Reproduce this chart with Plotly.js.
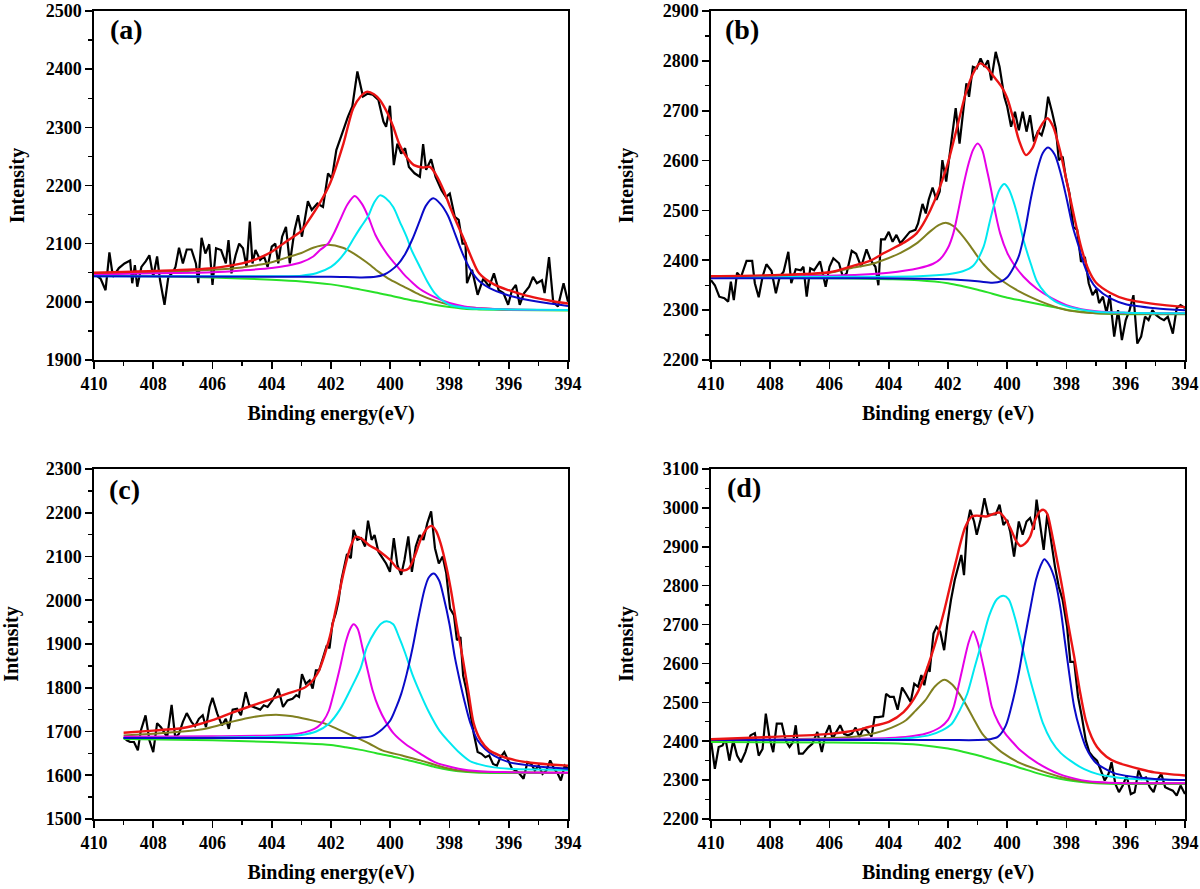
<!DOCTYPE html>
<html><head><meta charset="utf-8">
<script src="https://cdn.plot.ly/plotly-3.0.1.min.js"></script>
<style>html,body{margin:0;padding:0;background:#fff}#chart{width:1200px;height:889px}</style>
</head><body><div id="chart"></div>
<script>
// ---------- shared tick labels ----------
const xTicks = [410,408,406,404,402,400,398,396,394];
const aYTicks = [1900,2000,2100,2200,2300,2400,2500];
const bYTicks = [2200,2300,2400,2500,2600,2700,2800,2900];
const cYTicks = [1500,1600,1700,1800,1900,2000,2100,2200,2300];
const dYTicks = [2200,2300,2400,2500,2600,2700,2800,2900,3000,3100];
const panelLabels = ['(a)','(b)','(c)','(d)'];
const xTitles = ['Binding energy(eV)','Binding energy (eV)','Binding energy(eV)','Binding energy (eV)'];
const yTitle = 'Intensity';

// ---------- panel (a) ----------
const aDataE = [410,409.78,409.61,409.48,409.36,409.16,408.97,408.78,408.71,408.62,408.54,408.4,408.25,408.13,408,407.87,407.77,407.62,407.49,407.35,407.25,407.13,407,406.87,406.71,406.56,406.48,406.37,406.24,406.11,406,405.88,405.71,405.55,405.46,405.36,405.22,405.1,404.97,404.85,404.74,404.65,404.55,404.39,404.26,404.14,404,403.88,403.78,403.65,403.52,403.39,403.23,403.11,402.98,402.78,402.65,402.46,402.27,402.1,401.97,401.82,401.62,401.43,401.28,401.11,400.92,400.76,400.59,400.4,400.23,400.14,400.01,399.88,399.76,399.63,399.5,399.37,399.18,399,398.89,398.79,398.62,398.47,398.27,398.12,397.99,397.82,397.69,397.56,397.46,397.41,397.24,397.05,396.86,396.66,396.5,396.34,396.18,396.02,395.89,395.76,395.63,395.48,395.31,395.18,395.05,394.88,394.79,394.64,394.5,394.34,394.15,394];
const aDataI = [2048,2040,2020,2085,2043,2058,2066,2071,2032,2063,2026,2060,2070,2080,2043,2078,2037,1995,2043,2050,2060,2093,2066,2090,2090,2066,2032,2110,2083,2099,2029,2092,2089,2066,2106,2049,2080,2100,2092,2060,2138,2066,2089,2072,2078,2060,2095,2100,2066,2112,2129,2066,2123,2149,2112,2173,2158,2169,2163,2221,2212,2261,2290,2318,2336,2396,2353,2358,2356,2347,2310,2301,2337,2235,2272,2255,2264,2232,2221,2215,2271,2227,2245,2215,2192,2180,2186,2146,2141,2100,2100,2032,2055,2012,2040,2026,2049,2020,2015,1995,2020,2029,1995,2015,2026,2043,2032,2037,2015,2077,2000,1992,2032,2000];
const aGreen = [[410,2045],[408,2044],[406,2042],[404,2038],[403,2035],[402,2030],[401.5,2026],[401,2021],[400.5,2016],[400,2011],[399.5,2005],[399,2000],[398.5,1995],[398,1991],[397.5,1988],[397,1987],[396,1986],[394,1985]];
const aOlive = [[410,2049],[408,2051],[406,2055],[405,2059],[404.5,2063],[404,2068],[403.5,2076],[403,2084],[402.6,2093],[402.1,2098],[401.6,2093],[401.2,2082],[400.8,2068],[400.4,2052],[400,2038],[399.5,2025],[399,2012],[398.5,2002],[398,1995],[397.5,1991],[397,1989],[396,1987],[394,1986]];
const aMagenta = [[410,2047],[408,2049],[406,2051],[405,2054],[404,2058],[403.5,2062],[403,2068],[402.6,2078],[402.37,2089],[402.1,2100],[401.9,2118],[401.7,2140],[401.45,2167],[401.2,2182],[400.95,2168],[400.74,2146],[400.5,2115],[400.2,2089],[400,2075],[399.75,2060],[399.5,2045],[399.25,2033],[399,2022],[398.5,2008],[398,1998],[397.5,1992],[397,1989],[396,1987],[394,1986]];
const aCyan = [[410,2044],[405,2044],[403,2045],[402.5,2049],[402,2060],[401.75,2071],[401.47,2089],[401.2,2112],[401,2128],[400.75,2147],[400.55,2170],[400.35,2183],[400.15,2178],[399.9,2163],[399.68,2138],[399.45,2112],[399.28,2089],[399,2060],[398.75,2035],[398.5,2015],[398.2,2001],[398,1995],[397.5,1990],[397,1988],[396,1987],[394,1986]];
const aBlue = [[410,2044],[404,2043],[402,2043],[401,2042],[400.5,2043],[400.2,2047],[400,2053],[399.75,2064],[399.5,2082],[399.25,2108],[399,2140],[398.8,2165],[398.55,2178],[398.3,2168],[398.05,2148],[397.8,2115],[397.55,2082],[397.3,2056],[397,2036],[396.5,2020],[396,2011],[395,2000],[394,1993]];
const aRed = [[410,2050],[408,2053],[406,2058],[405,2066],[404.5,2074],[404,2086],[403.83,2092],[403.5,2104],[403,2122],[402.82,2135],[402.4,2168],[402.03,2204],[401.58,2272],[401.25,2333],[401,2353],[400.8,2361],[400.55,2357],[400.35,2347],[400.1,2325],[399.9,2301],[399.7,2272],[399.45,2249],[399.2,2235],[398.9,2231],[398.66,2232],[398.45,2218],[398.2,2192],[397.98,2163],[397.75,2135],[397.5,2106],[397.25,2075],[397,2049],[396.5,2030],[396,2020],[395.5,2012],[395,2006],[394.5,2001],[394,1997]];

// ---------- panel (b) ----------
const bDataE = [410,409.87,409.72,409.55,409.42,409.33,409.23,409.12,408.99,408.8,408.61,408.52,408.39,408.26,408.13,407.96,407.81,407.68,407.55,407.39,407.29,407.14,406.97,406.88,406.77,406.65,406.52,406.32,406.13,406,405.87,405.68,405.55,405.42,405.25,405.1,404.93,404.75,404.61,404.45,404.35,404.26,404.13,404,403.87,403.74,403.61,403.48,403.29,403.1,403.01,402.86,402.75,402.65,402.52,402.39,402.28,402.19,402.06,401.94,401.85,401.74,401.61,401.48,401.38,401.29,401.16,401.03,400.9,400.77,400.65,400.54,400.39,400.26,400.1,400,399.87,399.74,399.61,399.48,399.35,399.23,399.1,398.97,398.84,398.74,398.62,398.49,398.36,398.26,398.13,398.03,397.9,397.77,397.64,397.51,397.38,397.25,397.12,396.99,396.9,396.77,396.65,396.54,396.39,396.26,396.13,396,395.87,395.74,395.61,395.48,395.35,395.23,395.1,394.97,394.84,394.71,394.58,394.41,394.28,394.15,394];
const bDataI = [2360,2350,2327,2324,2317,2357,2320,2375,2366,2399,2399,2354,2326,2367,2392,2379,2334,2367,2377,2417,2354,2382,2380,2387,2327,2384,2380,2398,2347,2387,2404,2394,2367,2374,2419,2413,2387,2422,2400,2387,2350,2442,2442,2457,2437,2451,2434,2444,2457,2461,2474,2513,2494,2522,2546,2521,2538,2601,2558,2614,2655,2705,2634,2707,2755,2728,2788,2785,2805,2788,2801,2761,2818,2788,2728,2708,2668,2698,2661,2698,2658,2691,2638,2658,2651,2671,2728,2698,2664,2601,2608,2568,2534,2467,2461,2397,2407,2354,2330,2342,2314,2327,2294,2330,2247,2300,2240,2280,2300,2330,2233,2247,2287,2280,2300,2290,2284,2280,2287,2253,2304,2310,2304];
const bGreen = [[410,2365],[406,2364],[404,2362],[403,2360],[402,2354],[401.5,2348],[401,2341],[400.5,2333],[400,2325],[399.5,2319],[399,2313],[398.5,2307],[398,2301],[397.5,2297],[397,2294],[396,2292],[394,2292]];
const bOlive = [[410,2366],[408,2369],[406,2375],[405.3,2384],[404.6,2392],[404.2,2400],[403.6,2415],[403.06,2434],[402.6,2458],[402.3,2471],[402.05,2475],[401.8,2468],[401.55,2452],[401.3,2433],[401.03,2410],[400.8,2392],[400.5,2374],[400.2,2360],[399.55,2336],[398.9,2318],[398.4,2307],[398,2300],[397.5,2296],[397,2294],[396,2293],[394,2293]];
const bMagenta = [[410,2366],[407,2368],[405,2371],[404,2375],[403,2384],[402.5,2393],[402.27,2402],[402,2425],[401.82,2454],[401.65,2500],[401.48,2550],[401.3,2595],[401.15,2622],[401,2634],[400.85,2622],[400.7,2585],[400.55,2543],[400.4,2495],[400.24,2454],[400,2415],[399.8,2394],[399.45,2367],[399,2343],[398.5,2324],[398,2310],[397.5,2302],[397,2298],[396,2295],[394,2294]];
const bCyan = [[410,2366],[405,2367],[403,2368],[402,2372],[401.5,2378],[401.15,2389],[400.8,2427],[400.6,2475],[400.45,2510],[400.25,2543],[400.1,2553],[399.95,2543],[399.8,2520],[399.6,2478],[399.45,2440],[399.2,2392],[399,2358],[398.7,2333],[398.4,2318],[398,2308],[397.5,2301],[397,2297],[396,2295],[394,2294]];
const bBlue = [[410,2364],[405,2364],[402,2362],[401,2358],[400.5,2355],[400.2,2358],[400,2366],[399.8,2384],[399.6,2410],[399.4,2460],[399.2,2525],[399,2578],[398.8,2615],[398.62,2626],[398.4,2612],[398.2,2575],[398,2525],[397.8,2470],[397.6,2430],[397.4,2390],[397.2,2362],[397,2345],[396.5,2323],[396,2312],[395,2304],[394,2300]];
const bRed = [[410,2368],[408,2370],[406,2376],[405.31,2387],[404.6,2400],[404.18,2414],[403.5,2435],[403.06,2454],[402.6,2500],[402.04,2588],[401.7,2665],[401.4,2735],[401.15,2775],[400.92,2795],[400.7,2787],[400.45,2768],[400.19,2748],[400,2725],[399.8,2685],[399.6,2640],[399.37,2611],[399.15,2625],[398.9,2665],[398.65,2685],[398.45,2668],[398.2,2615],[398,2560],[397.75,2490],[397.5,2425],[397.25,2380],[397,2355],[396.5,2334],[396,2322],[395,2312],[394,2306]];

// ---------- panel (c) ----------
const cDataE = [409,408.89,408.78,408.65,408.52,408.42,408.26,408.13,408,407.87,407.74,407.62,407.53,407.38,407.26,407.13,407,406.87,406.71,406.59,406.46,406.33,406.22,406.1,406,405.84,405.68,405.55,405.45,405.32,405.17,405.04,404.88,404.76,404.59,404.39,404.27,404.14,403.98,403.78,403.62,403.47,403.3,403.17,403.08,402.98,402.85,402.72,402.62,402.51,402.4,402.27,402.14,402.05,401.95,401.84,401.75,401.65,401.56,401.46,401.33,401.24,401.11,400.98,400.85,400.75,400.63,400.53,400.4,400.27,400.14,400.01,399.88,399.76,399.63,399.52,399.39,399.27,399.14,399.01,398.88,398.75,398.62,398.49,398.36,398.23,398.11,397.98,397.85,397.75,397.63,397.54,397.44,397.31,397.18,397.05,396.92,396.79,396.66,396.53,396.4,396.28,396.15,396.02,395.89,395.76,395.63,395.5,395.37,395.24,395.12,394.99,394.86,394.73,394.6,394.47,394.34,394.24,394.11,394];
const cDataI = [1687,1680,1676,1676,1657,1702,1737,1680,1653,1719,1710,1695,1687,1761,1687,1695,1722,1742,1722,1712,1729,1737,1710,1756,1777,1741,1714,1729,1706,1750,1752,1737,1790,1760,1756,1750,1760,1756,1771,1798,1756,1771,1775,1783,1779,1831,1809,1817,1798,1840,1840,1870,1897,1890,1947,1970,1997,2046,2077,2106,2096,2161,2138,2142,2123,2182,2138,2149,2111,2096,2084,2065,2142,2081,2058,2092,2146,2065,2123,2149,2138,2176,2203,2119,2084,2100,2062,1981,1966,1909,1916,1828,1798,1748,1695,1653,1649,1641,1645,1626,1622,1641,1653,1634,1615,1611,1603,1592,1630,1626,1611,1622,1603,1611,1634,1615,1603,1588,1622,1615];
const cGreen = [[409,1683],[406,1680],[404,1676],[403,1673],[402,1669],[401.5,1664],[401,1658],[400.5,1651],[400,1644],[399.5,1636],[399,1628],[398.5,1619],[398,1612],[397.5,1608],[397,1606],[396,1605],[394,1605]];
const cOlive = [[409,1691],[408,1695],[407,1700],[406.2,1707],[405.42,1721],[404.8,1731],[404.2,1737],[403.75,1738],[403.3,1735],[402.8,1728],[402.2,1718],[401.7,1703],[401.17,1687],[400.7,1672],[400.27,1657],[399.6,1645],[398.98,1634],[398.3,1620],[397.69,1611],[397,1608],[396,1607],[394,1606]];
const cMagenta = [[409,1688],[406,1689],[404,1691],[403.1,1695],[402.7,1702],[402.46,1710],[402.25,1725],[402.07,1748],[401.9,1790],[401.69,1848],[401.5,1905],[401.35,1935],[401.24,1945],[401.1,1935],[400.95,1895],[400.79,1848],[400.6,1795],[400.4,1756],[400.15,1722],[399.88,1695],[399.5,1672],[398.98,1649],[398.5,1630],[397.69,1615],[397,1609],[396,1607],[394,1606]];
const cCyan = [[409,1685],[406,1686],[404,1688],[403,1692],[402.5,1700],[402.07,1718],[401.7,1750],[401.3,1802],[401,1845],[400.79,1893],[400.5,1930],[400.3,1947],[400.12,1952],[399.9,1945],[399.7,1915],[399.5,1880],[399.25,1830],[398.98,1786],[398.7,1745],[398.34,1702],[398,1675],[397.69,1653],[397.3,1632],[397.05,1626],[396.5,1618],[396,1615],[395,1613],[394,1612]];
const cBlue = [[409,1685],[405,1685],[402,1685],[401,1686],[400.6,1690],[400.27,1705],[400,1725],[399.8,1755],[399.63,1786],[399.45,1830],[399.24,1893],[399.05,1960],[398.85,2023],[398.7,2052],[398.53,2061],[398.35,2045],[398.2,2008],[398,1945],[397.82,1870],[397.65,1815],[397.5,1771],[397.3,1720],[397.05,1680],[396.8,1660],[396.5,1645],[396,1630],[395,1620],[394,1615]];
const cRed = [[409,1697],[408,1702],[407,1708],[406.71,1712],[406,1726],[405.42,1741],[404.8,1756],[404.14,1771],[403.5,1786],[402.85,1802],[402.46,1832],[402.07,1909],[401.82,1985],[401.55,2070],[401.35,2120],[401.17,2145],[400.95,2140],[400.7,2125],[400.5,2118],[400.27,2107],[400,2092],[399.76,2073],[399.55,2068],[399.37,2073],[399.15,2105],[398.98,2138],[398.75,2165],[398.6,2170],[398.45,2158],[398.3,2130],[398.1,2075],[397.95,2023],[397.75,1940],[397.56,1870],[397.35,1785],[397.18,1718],[396.95,1680],[396.66,1657],[396.3,1645],[395.76,1634],[395,1627],[394,1622]];

// ---------- panel (d) ----------
const dDataE = [410,409.87,409.74,409.61,409.51,409.38,409.25,409.12,408.99,408.84,408.67,408.52,408.39,408.26,408.15,408.03,407.9,407.78,407.61,407.48,407.35,407.23,407.14,407.03,406.9,406.71,406.58,406.41,406.26,406.13,406,405.9,405.77,405.64,405.51,405.38,405.25,405.12,404.99,404.86,404.74,404.58,404.48,404.35,404.19,404.09,403.96,403.83,403.7,403.55,403.42,403.26,403.14,403.01,402.9,402.8,402.67,402.62,402.49,402.39,402.26,402.13,402.03,401.9,401.77,401.64,401.55,401.46,401.35,401.25,401.12,401.03,400.9,400.77,400.65,400.52,400.39,400.26,400.13,400,399.9,399.77,399.61,399.48,399.35,399.23,399.1,399.01,398.9,398.77,398.65,398.52,398.39,398.26,398.13,397.98,397.87,397.74,397.61,397.48,397.35,397.23,397.1,396.97,396.84,396.71,396.58,396.48,396.35,396.23,396.1,395.97,395.83,395.7,395.57,395.45,395.32,395.19,395.06,394.94,394.8,394.67,394.54,394.41,394.28,394.15,394];
const dDataI = [2402,2329,2385,2389,2406,2350,2402,2363,2346,2372,2415,2421,2363,2380,2471,2411,2372,2445,2445,2402,2385,2398,2441,2368,2368,2385,2393,2424,2372,2419,2441,2406,2424,2441,2419,2415,2419,2435,2411,2432,2428,2412,2462,2462,2464,2522,2514,2514,2481,2538,2522,2501,2548,2540,2570,2544,2595,2578,2677,2694,2681,2634,2698,2763,2815,2853,2879,2827,2956,2995,2965,2931,2970,3025,2983,2983,2983,3008,2956,2969,2939,2875,2965,2931,2965,2974,2944,3021,2961,2892,2983,2918,2849,2797,2763,2694,2604,2604,2514,2462,2402,2372,2359,2350,2325,2299,2316,2346,2290,2269,2286,2312,2264,2269,2325,2303,2307,2282,2269,2299,2316,2282,2277,2273,2260,2286,2264];
const dGreen = [[410,2398],[406,2397],[404,2395],[403,2391],[402,2381],[401.5,2373],[401,2364],[400.5,2353],[400,2342],[399.5,2330],[399,2318],[398.5,2308],[398,2300],[397.5,2295],[397,2292],[396,2290],[394,2290]];
const dOlive = [[410,2403],[408,2404],[406,2408],[405,2413],[404.45,2421],[403.9,2435],[403.42,2454],[403.1,2478],[402.77,2505],[402.45,2540],[402.13,2558],[401.85,2545],[401.48,2505],[401.15,2460],[400.84,2419],[400.5,2392],[400.19,2372],[399.6,2345],[398.9,2325],[398.2,2308],[397.61,2299],[397,2294],[396,2292],[394,2292]];
const dMagenta = [[410,2403],[406,2405],[404,2408],[403.3,2412],[402.77,2419],[402.26,2436],[402,2455],[401.81,2488],[401.65,2540],[401.5,2591],[401.3,2655],[401.15,2683],[401,2655],[400.8,2591],[400.66,2540],[400.52,2488],[400.3,2448],[400.06,2419],[399.8,2396],[399.55,2376],[399,2345],[398.26,2316],[397.5,2300],[396.97,2295],[396,2292],[394,2292]];
const dCyan = [[410,2403],[406,2404],[404,2405],[403.2,2409],[402.65,2415],[402.2,2428],[401.87,2445],[401.6,2480],[401.35,2522],[401.1,2590],[400.84,2660],[400.6,2725],[400.35,2765],[400.13,2774],[399.95,2765],[399.75,2720],[399.55,2660],[399.3,2580],[399.03,2505],[398.8,2447],[398.52,2402],[398.2,2370],[397.87,2350],[397.4,2328],[396.97,2316],[396.3,2307],[395.68,2303],[394,2300]];
const dBlue = [[410,2403],[405,2403],[402,2403],[401,2403],[400.6,2405],[400.32,2411],[400.05,2440],[399.81,2505],[399.6,2580],[399.42,2660],[399.2,2750],[399.03,2815],[398.88,2850],[398.75,2868],[398.6,2855],[398.39,2815],[398.2,2740],[398.06,2660],[397.9,2570],[397.74,2488],[397.55,2430],[397.35,2385],[397.15,2358],[396.97,2342],[396.6,2325],[396.32,2316],[395.5,2306],[395.03,2303],[394,2300]];
const dRed = [[410,2405],[408,2411],[406,2419],[405,2430],[404.71,2436],[404,2450],[403.5,2475],[403.03,2525],[402.52,2630],[402.13,2735],[401.74,2860],[401.42,2950],[401.2,2978],[401.03,2980],[400.71,2978],[400.45,2985],[400.26,2988],[400.05,2970],[399.87,2944],[399.7,2915],[399.55,2902],[399.4,2908],[399.23,2926],[399.05,2970],[398.9,2991],[398.77,2995],[398.65,2985],[398.52,2944],[398.33,2870],[398.13,2789],[397.94,2700],[397.74,2617],[397.55,2530],[397.35,2454],[397.15,2410],[396.97,2385],[396.65,2360],[396.32,2346],[395.5,2328],[395.03,2320],[394,2312]];

// ---------- styling / layout ----------
const W = 1200, H = 889;
const COLORS = {black:'#000000', green:'rgb(40,225,40)', olive:'rgb(128,128,32)', magenta:'rgb(230,0,230)', cyan:'rgb(0,232,240)', blue:'rgb(10,10,200)', red:'rgb(235,20,20)'};
const FONT = '"Liberation Serif", "Times New Roman", Times, serif';

const panels = [
  {data:[aDataE,aDataI], curves:{green:aGreen, olive:aOlive, magenta:aMagenta, cyan:aCyan, blue:aBlue, red:aRed}, yt:aYTicks, px:[94,568], py:[11,360], lab:[108,30], ystand:16},
  {data:[bDataE,bDataI], curves:{green:bGreen, olive:bOlive, magenta:bMagenta, cyan:bCyan, blue:bBlue, red:bRed}, yt:bYTicks, px:[711,1185], py:[11,360], lab:[723,30], ystand:24},
  {data:[cDataE,cDataI], curves:{green:cGreen, olive:cOlive, magenta:cMagenta, cyan:cCyan, blue:cBlue, red:cRed}, yt:cYTicks, px:[94,568], py:[469,819], lab:[107,489], ystand:24},
  {data:[dDataE,dDataI], curves:{green:dGreen, olive:dOlive, magenta:dMagenta, cyan:dCyan, blue:dBlue, red:dRed}, yt:dYTicks, px:[711,1185], py:[469,819], lab:[725,487], ystand:24}
];

const traces = [];
const layout = {
  width: W, height: H, margin:{l:0,r:0,t:0,b:0},
  paper_bgcolor:'#fff', plot_bgcolor:'#fff', showlegend:false,
  font:{family:FONT, color:'#000'}, annotations:[]
};

panels.forEach((p, i) => {
  const n = i === 0 ? '' : String(i+1);
  const xa = 'x'+n, ya = 'y'+n;
  traces.push({x:p.data[0], y:p.data[1], xaxis:xa, yaxis:ya, type:'scatter', mode:'lines',
               line:{color:COLORS.black, width:2.2}, hoverinfo:'skip'});
  ['green','olive','magenta','cyan','blue','red'].forEach(k => {
    const pts = p.curves[k];
    traces.push({x:pts.map(q=>q[0]), y:pts.map(q=>q[1]), xaxis:xa, yaxis:ya, type:'scatter', mode:'lines',
                 line:{color:COLORS[k], width:k==='red'?2.4:2, shape:'spline', smoothing:0.8}, hoverinfo:'skip'});
  });
  const common = {showline:true, linecolor:'#000', linewidth:1.6, mirror:true, showgrid:false, zeroline:false,
                  ticks:'outside', ticklen:7, tickwidth:1.6, tickcolor:'#000',
                  tickfont:{family:FONT, size:18, weight:'bold', color:'#000'}};
  layout['xaxis'+n] = Object.assign({}, common, {
    domain:[p.px[0]/W, p.px[1]/W], anchor:ya, range:[410,394], tickmode:'array', tickvals:xTicks,
    minor:{dtick:1, tick0:394, ticks:'outside', ticklen:4, tickwidth:1.4, tickcolor:'#000', showgrid:false},
    title:{text:xTitles[i], font:{family:FONT, size:20, weight:'bold', color:'#000'}, standoff:13}
  });
  const yt = p.yt;
  layout['yaxis'+n] = Object.assign({}, common, {
    domain:[1 - p.py[1]/H, 1 - p.py[0]/H], anchor:xa, range:[yt[0], yt[yt.length-1]], tickmode:'array', tickvals:yt,
    minor:{dtick:50, tick0:yt[0], ticks:'outside', ticklen:4, tickwidth:1.4, tickcolor:'#000', showgrid:false},
    title:{text:yTitle, font:{family:FONT, size:20, weight:'bold', color:'#000'}, standoff:p.ystand}
  });
  layout.annotations.push({text:panelLabels[i], xref:'paper', yref:'paper', x:p.lab[0]/W, y:1 - p.lab[1]/H,
    xanchor:'left', yanchor:'middle', showarrow:false, font:{family:FONT, size:28, weight:'bold', color:'#000'}});
});

Plotly.newPlot('chart', traces, layout, {staticPlot:true, displayModeBar:false});
</script></body></html>
